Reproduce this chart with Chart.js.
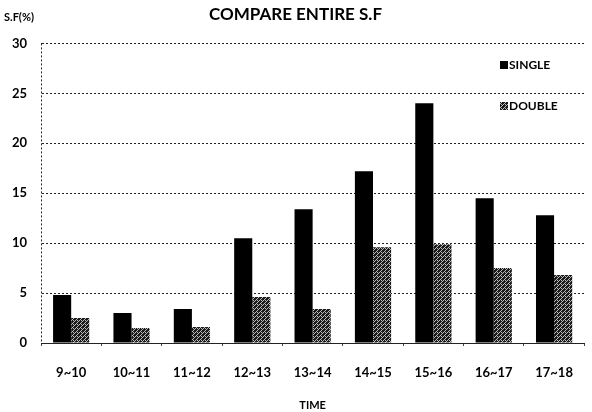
<!DOCTYPE html>
<html lang="en">
<head>
  <meta charset="UTF-8" />
  <title>Compare Entire S.F</title>
  <script src="https://cdn.jsdelivr.net/npm/chart.js"></script>
  <style>
    body { margin: 0; background: #fff; }
    #wrap { width: 592px; height: 412px; }
  </style>
</head>
<body>
  <div id="wrap"><canvas id="grafik" width="592" height="412"></canvas></div>

  <script>
    const kategori = ["9~10", "10~11", "11~12", "12~13", "13~14", "14~15", "15~16", "16~17", "17~18"];
    const nilaiSingle = [4.8, 3.0, 3.4, 10.5, 13.4, 17.2, 24.0, 14.5, 12.8];
    const nilaiDouble = [2.5, 1.5, 1.6, 4.6, 3.4, 9.6, 9.9, 7.5, 6.8];
    const yTicks = [0, 5, 10, 15, 20, 25, 30];

    const FONT = "Lato, 'Open Sans', sans-serif";

    // pola arsiran untuk DOUBLE
    function buatPola() {
      const c = document.createElement("canvas");
      c.width = 4; c.height = 4;
      const g = c.getContext("2d");
      g.fillStyle = "#1a1a1a";
      g.fillRect(0, 0, 4, 4);
      g.fillStyle = "#bdbdbd";
      [[0, 3], [1, 2], [2, 1], [3, 0], [1, 0]].forEach(p => g.fillRect(p[0], p[1], 1, 1));
      return g.createPattern(c, "repeat");
    }
    const pola = buatPola();

    const dotted = { color: "#222", dash: [2, 2] };

    const legendaDalam = {
      id: "legendaDalam",
      afterDraw(chart) {
        const ctx = chart.ctx;
        ctx.save();
        ctx.font = "bold 12px " + FONT;
        ctx.textBaseline = "middle";
        const pos = [65, 106];
        chart.data.datasets.forEach((ds, i) => {
          ctx.fillStyle = ds.backgroundColor;
          ctx.fillRect(500, pos[i] - 4, 8, 8);
          ctx.fillStyle = "#000";
          ctx.fillText(ds.label, 509, pos[i]);
        });
        // label sumbu Y di pojok kiri atas
        ctx.font = "bold 11px " + FONT;
        ctx.textAlign = "left";
        ctx.fillText("S.F(%)", 4, 17);
        // garis kiri bertitik
        const a = chart.chartArea;
        ctx.strokeStyle = "#fff";
        ctx.lineWidth = 1;
        ctx.setLineDash([2, 2]);
        ctx.lineDashOffset = 2;
        ctx.beginPath();
        ctx.moveTo(a.left + 0.5, a.top);
        ctx.lineTo(a.left + 0.5, a.bottom);
        ctx.stroke();
        ctx.restore();
      }
    };

    new Chart(document.getElementById("grafik"), {
      type: "bar",
      data: {
        labels: kategori,
        datasets: [
          { label: "SINGLE", data: nilaiSingle, backgroundColor: "#000" },
          { label: "DOUBLE", data: nilaiDouble, backgroundColor: pola }
        ]
      },
      options: {
        responsive: false,
        animation: false,
        layout: { padding: { right: 1 } },
        datasets: { bar: { categoryPercentage: 0.6, barPercentage: 1.0 } },
        plugins: {
          legend: { display: false },
          tooltip: { enabled: false },
          title: {
            display: true,
            text: "COMPARE ENTIRE S.F",
            color: "#000",
            font: { family: FONT, size: 17, weight: "bold", lineHeight: 1.2 },
            padding: { top: 4, bottom: 19 }
          }
        },
        scales: {
          x: {
            grid: { drawOnChartArea: false, color: "#444", tickLength: 3 },
            border: dotted,
            ticks: { color: "#000", padding: 19, font: { family: FONT, size: 13, weight: "bold" } },
            title: {
              display: true, text: "TIME", color: "#000",
              font: { family: FONT, size: 11, weight: "bold" },
              padding: { top: 11, bottom: 0 }
            },
            afterFit: s => { s.height = 69; }
          },
          y: {
            min: 0, max: 30,
            afterBuildTicks: s => { s.ticks = yTicks.map(v => ({ value: v })); },
            grid: { color: "#222", tickLength: 0, lineWidth: 1 },
            border: dotted,
            ticks: { color: "#000", padding: 14, font: { family: FONT, size: 13, weight: "bold" } },
            afterFit: s => { s.width = 41; }
          }
        }
      },
      plugins: [legendaDalam]
    });
  </script>
</body>
</html>
